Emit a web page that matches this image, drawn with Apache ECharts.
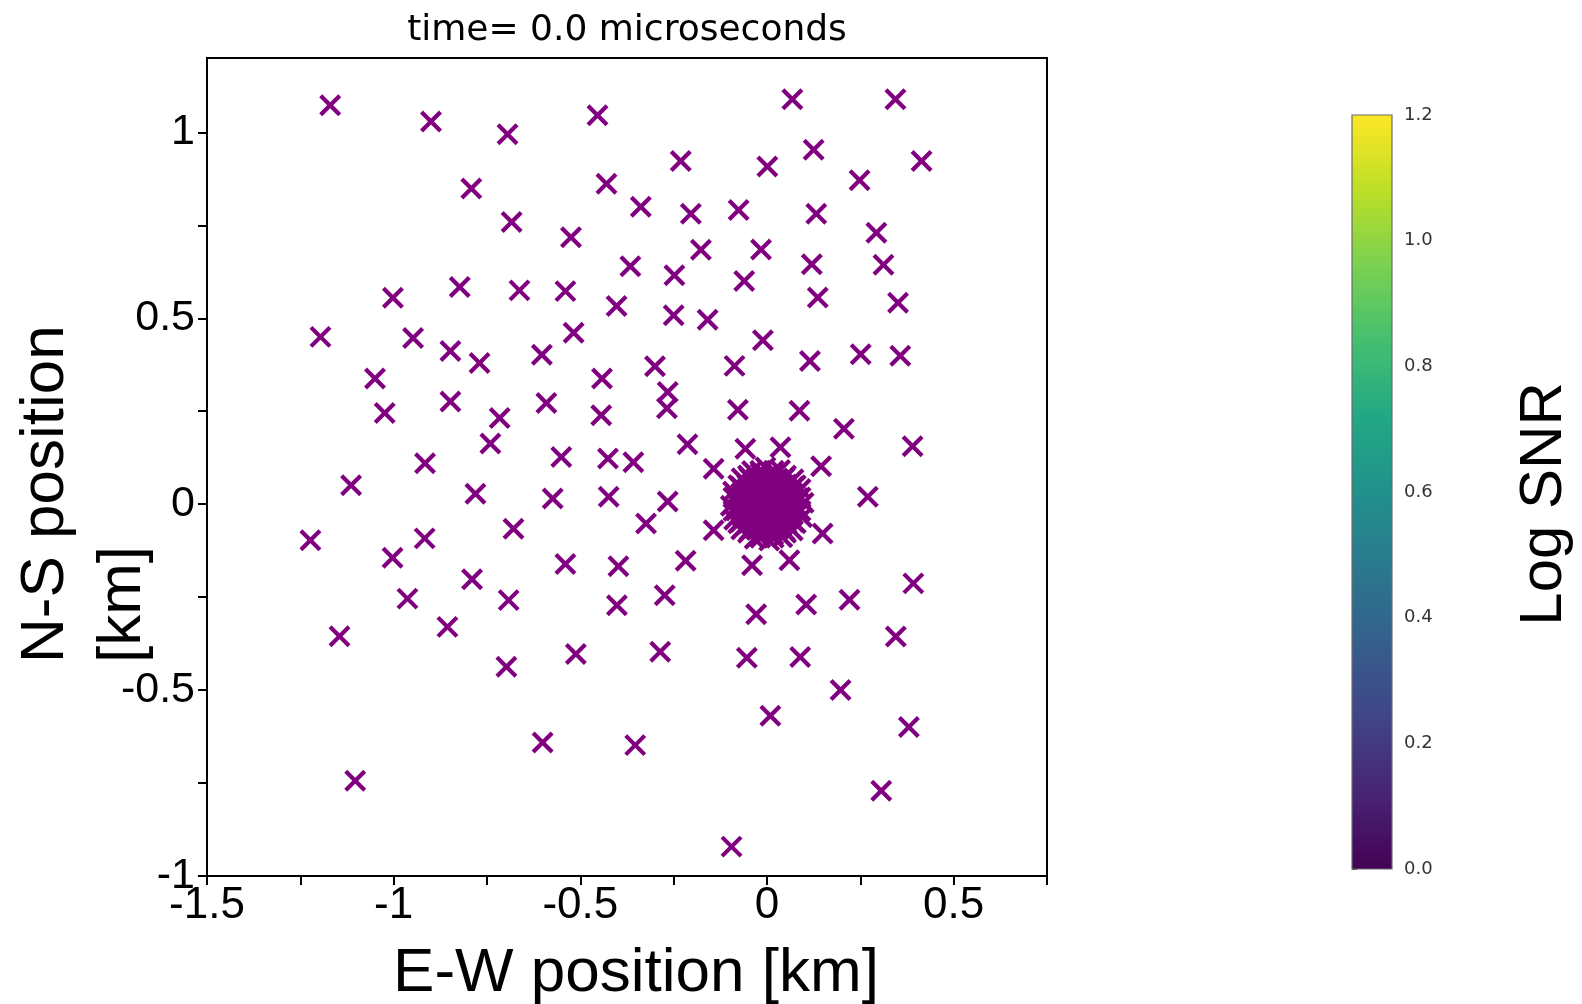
<!DOCTYPE html>
<html>
<head>
<meta charset="utf-8">
<title>Station SNR map</title>
<script src="https://cdn.jsdelivr.net/npm/echarts@6/dist/echarts.min.js"></script>
<style>
  html, body { margin: 0; padding: 0; background: #ffffff; }
  #chart { width: 1582px; height: 1004px; }
</style>
</head>
<body>
<div id="chart"></div>
<script>
// Array stations scattered around the source, [E-W km, N-S km]
const outerStations = [
  [-1.170, 1.073], [-0.900, 1.029], [-0.695, 0.995], [-0.454, 1.046], [0.068, 1.089],
  [0.344, 1.089], [0.125, 0.953], [0.414, 0.923], [-0.231, 0.923], [0.001, 0.908],
  [0.248, 0.871], [-0.792, 0.849], [-0.430, 0.862], [-0.338, 0.800], [-0.076, 0.791],
  [-0.204, 0.781], [0.132, 0.781], [-0.684, 0.759], [-0.525, 0.718], [0.293, 0.730],
  [-0.177, 0.684], [-0.016, 0.685], [-0.366, 0.640], [0.312, 0.644], [0.120, 0.645],
  [-0.061, 0.600], [-0.248, 0.616], [-0.823, 0.584], [-0.663, 0.575], [-0.540, 0.573],
  [-1.002, 0.555], [0.136, 0.556], [-0.403, 0.533], [0.351, 0.542], [-0.250, 0.508],
  [-0.159, 0.496], [-1.196, 0.450], [-0.948, 0.447], [-0.518, 0.461], [-0.011, 0.441],
  [-0.848, 0.412], [-0.603, 0.402], [-0.770, 0.380], [0.115, 0.385], [0.251, 0.403],
  [0.357, 0.399], [-0.300, 0.371], [-0.087, 0.372], [-1.050, 0.338], [-0.442, 0.338],
  [-0.266, 0.302], [-0.848, 0.276], [-0.591, 0.272], [-0.268, 0.258], [-1.024, 0.245],
  [-0.716, 0.232], [-0.444, 0.239], [-0.078, 0.254], [0.087, 0.251], [0.206, 0.203],
  [-0.741, 0.163], [-0.213, 0.161], [-0.058, 0.149], [0.036, 0.153], [0.390, 0.156],
  [-0.551, 0.127], [-0.426, 0.123], [-0.358, 0.113], [-0.916, 0.110], [-0.143, 0.095],
  [0.145, 0.102], [-1.114, 0.051], [-0.781, 0.028], [-0.574, 0.015], [-0.424, 0.020],
  [-0.266, 0.007], [0.270, 0.020], [-0.324, -0.052], [-0.679, -0.066], [-0.143, -0.070],
  [0.149, -0.079], [-1.223, -0.097], [-0.917, -0.092], [-1.003, -0.144], [0.060, -0.151],
  [-0.540, -0.161], [-0.218, -0.152], [-0.040, -0.164], [-0.398, -0.167], [-0.790, -0.202],
  [0.392, -0.213], [-0.963, -0.254], [-0.692, -0.258], [-0.274, -0.245], [0.221, -0.257],
  [-0.402, -0.272], [0.105, -0.270], [-0.029, -0.296], [-1.145, -0.355], [-0.856, -0.330],
  [0.345, -0.356], [-0.512, -0.403], [-0.286, -0.397], [-0.054, -0.413], [0.089, -0.411],
  [-0.698, -0.437], [0.197, -0.500], [0.009, -0.569], [0.380, -0.599], [-0.601, -0.641],
  [-0.353, -0.648], [-1.103, -0.744], [0.306, -0.771], [-0.095, -0.921]
];

// Dense core of stations packed within ~0.1 km of the origin
const coreStations = [
  [0.000, 0.000], [0.020, 0.010], [-0.010, 0.020], [-0.020, -0.010], [0.010, -0.020],
  [0.008, 0.008], [-0.008, -0.008], [0.008, -0.008], [-0.008, 0.008],
  [0.030, 0.000], [0.015, 0.026], [-0.015, 0.026], [-0.030, 0.000], [-0.015, -0.026], [0.015, -0.026],
  [0.038, 0.015], [-0.038, -0.015], [0.015, -0.038], [-0.015, 0.038], [0.038, -0.020],
  [-0.038, 0.020], [0.022, 0.040], [-0.022, -0.040],
  [0.045, 0.000], [0.032, 0.032], [0.000, 0.045], [-0.032, 0.032], [-0.045, 0.000],
  [-0.032, -0.032], [0.000, -0.045], [0.032, -0.032],
  [0.058, 0.000], [0.047, 0.034], [0.018, 0.055], [-0.018, 0.055], [-0.047, 0.034],
  [-0.058, 0.000], [-0.047, -0.034], [-0.018, -0.055], [0.018, -0.055], [0.047, -0.034],
  [0.068, 0.018], [0.049, 0.050], [0.018, 0.067], [-0.019, 0.068], [-0.050, 0.049],
  [-0.067, 0.019], [-0.068, -0.018], [-0.049, -0.050], [-0.018, -0.068], [0.019, -0.067],
  [0.050, -0.049], [0.067, -0.019],
  [0.075, 0.000], [0.069, 0.029], [0.053, 0.053], [0.029, 0.069], [0.000, 0.075],
  [-0.029, 0.069], [-0.053, 0.053], [-0.069, 0.029], [-0.075, 0.000], [-0.069, -0.029],
  [-0.053, -0.053], [-0.029, -0.069], [0.000, -0.075], [0.029, -0.069], [0.053, -0.053],
  [0.069, -0.029],
  [0.083, 0.017], [0.071, 0.047], [0.047, 0.071], [0.017, 0.083], [-0.017, 0.083],
  [-0.047, 0.071], [-0.071, 0.047], [-0.083, 0.017], [-0.083, -0.017], [-0.071, -0.047],
  [-0.047, -0.071], [-0.017, -0.083], [0.017, -0.083], [0.047, -0.071], [0.071, -0.047],
  [0.083, -0.017],
  [0.090, 0.018], [0.077, 0.051], [0.051, 0.077], [0.018, 0.090], [-0.018, 0.090],
  [-0.051, 0.077], [-0.077, 0.051], [-0.090, 0.018], [-0.090, -0.018], [-0.077, -0.051],
  [-0.051, -0.077], [-0.018, -0.090], [0.018, -0.090], [0.051, -0.077], [0.077, -0.051],
  [0.090, -0.018],
  [0.098, 0.004], [0.090, 0.041], [0.071, 0.067], [0.035, 0.092], [-0.004, 0.099],
  [-0.040, 0.089], [-0.068, 0.070], [-0.091, 0.034], [-0.097, -0.004], [-0.088, -0.042],
  [-0.069, -0.068], [-0.033, -0.093], [0.006, -0.098], [0.041, -0.089], [0.069, -0.071],
  [0.094, -0.035]
];

// Axis ticks and labels (km)
const ewTicks = [-1.5, -1.25, -1, -0.75, -0.5, -0.25, 0, 0.25, 0.5, 0.75];
const ewLabels = [-1.5, -1, -0.5, 0, 0.5];
const nsTicks = [-1, -0.75, -0.5, -0.25, 0, 0.25, 0.5, 0.75, 1];
const nsLabels = [-1, -0.5, 0, 0.5, 1];

// Colour bar range (log SNR) and viridis stops
const snrRange = [0, 1.2];
const viridis = ['#440154', '#482475', '#414487', '#355f8d', '#2a788e', '#21918c',
                 '#22a884', '#44bf70', '#7ad151', '#bddf26', '#fde725'];

const markerColor = '#800080';
const half = 9.5;

function renderCross(params, api) {
  const p = api.coord([api.value(0), api.value(1)]);
  const style = { stroke: markerColor, lineWidth: 4.2, lineCap: 'butt' };
  return {
    type: 'group',
    children: [
      { type: 'line', shape: { x1: p[0] - half, y1: p[1] - half, x2: p[0] + half, y2: p[1] + half }, style: style },
      { type: 'line', shape: { x1: p[0] - half, y1: p[1] + half, x2: p[0] + half, y2: p[1] - half }, style: style }
    ]
  };
}

function renderColorbar(params, api) {
  const lo = api.coord([0, api.value(0)]);
  const hi = api.coord([1, api.value(1)]);
  const stops = viridis.map(function (c, i) {
    return { offset: 1 - i / (viridis.length - 1), color: c };
  });
  return {
    type: 'rect',
    shape: { x: lo[0], y: hi[1], width: hi[0] - lo[0], height: lo[1] - hi[1] },
    style: {
      fill: new echarts.graphic.LinearGradient(0, 0, 0, 1, stops),
      stroke: '#6a6a6a',
      lineWidth: 1.2
    }
  };
}

const chart = echarts.init(document.getElementById('chart'), null, { renderer: 'canvas' });

const tickFont = 'Liberation Sans, Arial, sans-serif';

chart.setOption({
  backgroundColor: '#ffffff',
  animation: false,
  grid: [
    { left: 207, top: 58, width: 840, height: 818, show: true, borderColor: '#000', borderWidth: 2,
      backgroundColor: '#fff', containLabel: false, outerBoundsMode: 'none' },
    { left: 1352, top: 115, width: 40, height: 754, show: false, containLabel: false, outerBoundsMode: 'none' }
  ],
  xAxis: [
    {
      type: 'value', gridIndex: 0, min: -1.5, max: 0.75, interval: 0.25,
      axisLine: { show: true, onZero: false, lineStyle: { color: '#000', width: 2 } },
      axisTick: { show: true, inside: false, length: 9, customValues: ewTicks, lineStyle: { color: '#000', width: 2 } },
      axisLabel: { show: true, customValues: ewLabels, fontSize: 44, fontFamily: tickFont, color: '#000', margin: 8 },
      splitLine: { show: false }
    },
    { type: 'value', gridIndex: 1, min: 0, max: 1, show: false }
  ],
  yAxis: [
    {
      type: 'value', gridIndex: 0, min: -1, max: 1.2, interval: 0.25,
      axisLine: { show: true, onZero: false, lineStyle: { color: '#000', width: 2 } },
      axisTick: { show: true, inside: false, length: 9, customValues: nsTicks, lineStyle: { color: '#000', width: 2 } },
      axisLabel: { show: true, customValues: nsLabels, fontSize: 43, fontFamily: tickFont, color: '#000', margin: 12 },
      splitLine: { show: false }
    },
    {
      type: 'value', gridIndex: 1, min: snrRange[0], max: snrRange[1], interval: 0.2, position: 'right',
      axisLine: { show: false },
      axisTick: { show: true, inside: false, length: 5, lineStyle: { color: '#555', width: 1 } },
      axisLabel: {
        show: true, fontSize: 18, fontFamily: 'DejaVu Sans, sans-serif', color: '#333', margin: 12,
        formatter: function (v) { return v.toFixed(1); }
      },
      splitLine: { show: false }
    }
  ],
  series: [
    {
      type: 'custom', name: 'stations', xAxisIndex: 0, yAxisIndex: 0,
      renderItem: renderCross, data: outerStations.concat(coreStations),
      clip: true, silent: true
    },
    {
      type: 'custom', name: 'colorbar', xAxisIndex: 1, yAxisIndex: 1,
      renderItem: renderColorbar, data: [snrRange], silent: true, clip: false
    }
  ],
  graphic: [
    {
      type: 'text', x: 627, y: 31,
      style: { text: 'time= 0.0 microseconds', fontSize: 36, fontFamily: 'DejaVu Sans, sans-serif',
               fill: '#000', textAlign: 'center', textVerticalAlign: 'middle', align: 'center', verticalAlign: 'middle' }
    },
    {
      type: 'text', x: 636, y: 974,
      style: { text: 'E-W position [km]', fontSize: 62, fontFamily: tickFont,
               fill: '#000', textAlign: 'center', textVerticalAlign: 'middle', align: 'center', verticalAlign: 'middle' }
    },
    {
      type: 'text', x: 46, y: 663, rotation: Math.PI / 2,
      style: { text: 'N-S position', fontSize: 62, fontFamily: tickFont,
               fill: '#000', textAlign: 'left', textVerticalAlign: 'middle', align: 'left', verticalAlign: 'middle' }
    },
    {
      type: 'text', x: 123, y: 663, rotation: Math.PI / 2,
      style: { text: '[km]', fontSize: 62, fontFamily: tickFont,
               fill: '#000', textAlign: 'left', textVerticalAlign: 'middle', align: 'left', verticalAlign: 'middle' }
    },
    {
      type: 'text', x: 1544, y: 504, rotation: Math.PI / 2,
      style: { text: 'Log SNR', fontSize: 60, fontFamily: tickFont,
               fill: '#000', textAlign: 'center', textVerticalAlign: 'middle', align: 'center', verticalAlign: 'middle' }
    }
  ]
});
</script>
</body>
</html>
